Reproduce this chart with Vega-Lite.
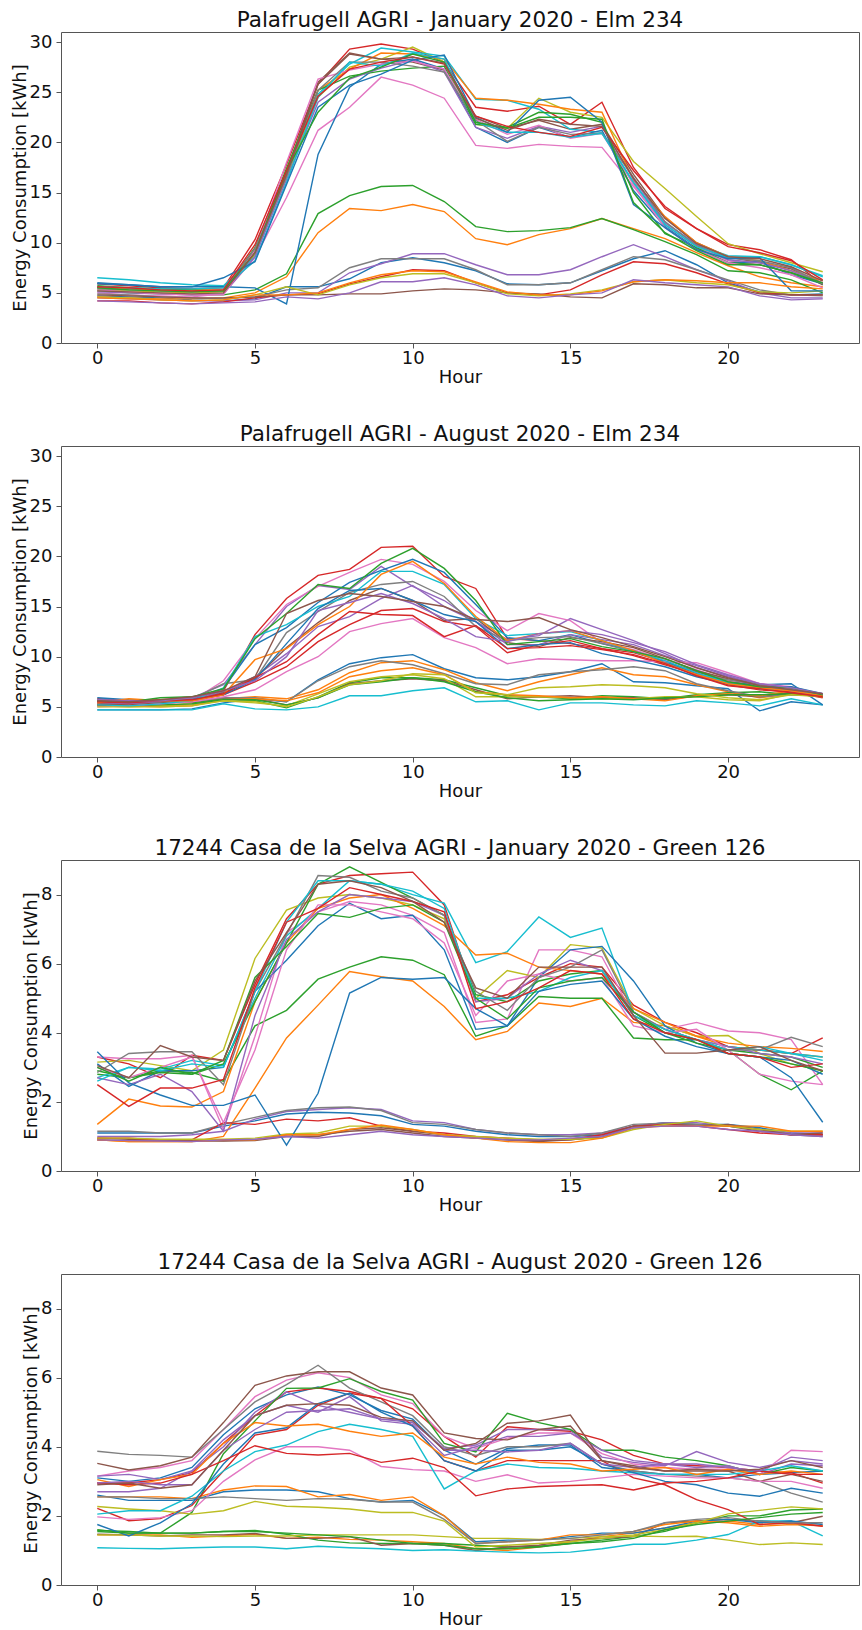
{
"$schema": "https://vega.github.io/schema/vega-lite/v6.json",
"padding": {"left": 10, "top": 9, "right": 4, "bottom": 0},
"spacing": 36,
"config": {
 "font": "DejaVu Sans",
 "view": {"stroke": "#555", "strokeWidth": 1},
 "axis": {"grid": false, "domain": false, "ticks": true, "tickColor": "#555", "tickSize": 5, "tickWidth": 1, "labelFontSize": 18, "titleFontSize": 18, "labelColor": "#111", "titleColor": "#111", "titleFontWeight": "normal", "labelFont": "DejaVu Sans", "titleFont": "DejaVu Sans", "labelFlush": false, "labelOverlap": false},
 "axisX": {"labelPadding": 1, "titlePadding": 1, "labelAngle": 0},
 "axisY": {"labelPadding": 4, "titlePadding": 0},
 "title": {"fontSize": 21.5, "fontWeight": "normal", "font": "DejaVu Sans", "color": "#111", "offset": 0.5},
 "line": {"strokeWidth": 1.4}
},
"datasets": {
"p1": [
{"hour":0,"a":4.7,"b":4.6,"c":5.2,"d":5.9,"e":4.5,"f":5.5,"g":5.0,"h":4.9,"i":5.3,"j":6.5,"k":6.0,"l":5.6,"m":5.7,"n":4.2,"o":5.1,"p":4.8,"q":5.3,"r":5.4,"s":4.6,"t":5.6,"u":5.9,"v":4.5,"w":5.5,"x":5.6,"y":4.2,"z":5.2},
{"hour":1,"a":4.6,"b":4.5,"c":5.0,"d":5.7,"e":4.4,"f":5.4,"g":4.8,"h":4.8,"i":5.2,"j":6.3,"k":5.8,"l":5.4,"m":5.5,"n":4.2,"o":5.0,"p":4.7,"q":5.1,"r":5.3,"s":4.5,"t":5.5,"u":5.8,"v":4.4,"w":5.3,"x":5.5,"y":4.1,"z":5.1},
{"hour":2,"a":4.5,"b":4.4,"c":4.9,"d":5.5,"e":4.3,"f":5.2,"g":4.7,"h":4.6,"i":5.1,"j":6.0,"k":5.6,"l":5.3,"m":5.4,"n":4.0,"o":4.9,"p":4.6,"q":4.9,"r":5.2,"s":4.3,"t":5.4,"u":5.6,"v":4.3,"w":5.2,"x":5.3,"y":4.0,"z":5.0},
{"hour":3,"a":4.3,"b":4.4,"c":4.8,"d":5.4,"e":4.2,"f":5.1,"g":4.6,"h":4.5,"i":5.0,"j":5.8,"k":5.6,"l":5.3,"m":5.3,"n":3.9,"o":4.8,"p":4.5,"q":4.8,"r":5.1,"s":4.2,"t":5.4,"u":5.6,"v":4.2,"w":5.1,"x":5.2,"y":3.9,"z":4.9},
{"hour":4,"a":4.2,"b":4.5,"c":4.8,"d":5.5,"e":4.2,"f":5.2,"g":4.9,"h":4.4,"i":5.1,"j":5.7,"k":5.6,"l":5.3,"m":5.2,"n":4.1,"o":4.9,"p":4.5,"q":4.8,"r":5.3,"s":4.3,"t":5.5,"u":6.5,"v":4.3,"w":5.2,"x":5.3,"y":4.0,"z":5.0},
{"hour":5,"a":4.4,"b":5.0,"c":5.3,"d":10.3,"e":4.3,"f":9.2,"g":8.5,"h":4.6,"i":8.8,"j":8.6,"k":5.5,"l":9.0,"m":9.5,"n":4.5,"o":8.6,"p":4.6,"q":9.2,"r":9.4,"s":4.8,"t":8.2,"u":8.1,"v":4.8,"w":9.0,"x":9.8,"y":4.1,"z":9.0},
{"hour":6,"a":5.6,"b":6.6,"c":6.9,"d":17.8,"e":5.0,"f":17.0,"g":14.5,"h":5.3,"i":16.5,"j":16.8,"k":3.9,"l":16.8,"m":17.4,"n":4.8,"o":16.3,"p":4.8,"q":18.0,"r":16.6,"s":5.6,"t":16.0,"u":15.8,"v":4.8,"w":17.2,"x":17.2,"y":4.6,"z":16.8},
{"hour":7,"a":5.6,"b":11.0,"c":12.9,"d":25.8,"e":5.0,"f":26.0,"g":21.2,"h":5.5,"i":24.5,"j":24.8,"k":18.8,"l":25.2,"m":25.2,"n":4.9,"o":24.0,"p":4.8,"q":26.3,"r":25.2,"s":4.8,"t":24.5,"u":23.5,"v":5.0,"w":23.0,"x":24.6,"y":4.4,"z":25.8},
{"hour":8,"a":6.4,"b":13.4,"c":14.7,"d":29.3,"e":7.0,"f":28.9,"g":23.5,"h":7.5,"i":27.5,"j":27.8,"k":25.5,"l":27.3,"m":26.6,"n":5.9,"o":26.3,"p":4.9,"q":27.2,"r":28.0,"s":5.8,"t":28.0,"u":25.7,"v":6.0,"w":26.4,"x":27.3,"y":5.0,"z":28.8},
{"hour":9,"a":8.0,"b":13.2,"c":15.6,"d":29.8,"e":7.9,"f":28.3,"g":26.5,"h":8.4,"i":28.3,"j":29.4,"k":27.8,"l":28.9,"m":27.1,"n":6.6,"o":27.4,"p":4.9,"q":27.8,"r":28.0,"s":6.5,"t":27.6,"u":26.8,"v":6.8,"w":27.5,"x":28.0,"y":6.1,"z":28.3},
{"hour":10,"a":8.5,"b":13.8,"c":15.7,"d":29.3,"e":8.9,"f":28.0,"g":25.7,"h":8.4,"i":29.5,"j":29.0,"k":28.3,"l":28.8,"m":27.4,"n":7.3,"o":28.2,"p":5.2,"q":28.1,"r":27.6,"s":6.9,"t":28.9,"u":28.2,"v":7.2,"w":28.8,"x":28.5,"y":6.1,"z":28.5},
{"hour":11,"a":8.0,"b":13.1,"c":14.1,"d":28.0,"e":8.9,"f":27.2,"g":24.4,"h":8.4,"i":28.0,"j":28.6,"k":27.3,"l":28.3,"m":27.6,"n":7.2,"o":27.0,"p":5.4,"q":27.3,"r":27.0,"s":6.9,"t":28.3,"u":28.7,"v":7.1,"w":28.0,"x":27.8,"y":6.5,"z":27.9},
{"hour":12,"a":7.2,"b":10.4,"c":11.6,"d":23.5,"e":7.8,"f":22.6,"g":19.7,"h":7.3,"i":21.8,"j":24.3,"k":21.5,"l":24.4,"m":21.8,"n":6.0,"o":21.5,"p":5.3,"q":22.3,"r":22.2,"s":6.0,"t":22.0,"u":22.5,"v":6.1,"w":22.0,"x":22.6,"y":5.8,"z":22.4},
{"hour":13,"a":5.9,"b":9.8,"c":11.1,"d":23.1,"e":6.8,"f":21.4,"g":19.4,"h":5.8,"i":21.4,"j":24.2,"k":20.0,"l":24.2,"m":21.5,"n":5.0,"o":20.4,"p":5.0,"q":20.8,"r":20.1,"s":4.9,"t":21.0,"u":21.0,"v":5.1,"w":21.4,"x":21.6,"y":4.7,"z":21.2},
{"hour":14,"a":5.8,"b":10.8,"c":11.2,"d":23.6,"e":6.8,"f":22.2,"g":19.8,"h":5.8,"i":24.4,"j":23.3,"k":21.5,"l":23.8,"m":23.0,"n":4.8,"o":21.6,"p":4.9,"q":21.7,"r":21.5,"s":4.7,"t":21.0,"u":24.2,"v":4.8,"w":22.5,"x":21.0,"y":4.5,"z":22.3},
{"hour":15,"a":6.0,"b":11.4,"c":11.5,"d":21.8,"e":7.3,"f":21.3,"g":19.6,"h":6.0,"i":23.0,"j":21.3,"k":20.5,"l":23.3,"m":22.8,"n":5.3,"o":21.0,"p":4.6,"q":20.4,"r":20.8,"s":4.9,"t":20.5,"u":24.5,"v":4.8,"w":22.5,"x":20.6,"y":4.8,"z":21.8},
{"hour":16,"a":7.2,"b":12.4,"c":12.4,"d":24.0,"e":8.6,"f":21.8,"g":19.5,"h":7.3,"i":22.5,"j":21.0,"k":21.2,"l":23.0,"m":22.0,"n":6.8,"o":21.6,"p":4.5,"q":20.9,"r":20.9,"s":5.3,"t":20.9,"u":22.0,"v":5.2,"w":22.3,"x":21.5,"y":5.0,"z":21.6},
{"hour":17,"a":8.4,"b":11.4,"c":11.3,"d":17.5,"e":9.8,"f":16.8,"g":15.6,"h":8.6,"i":18.1,"j":16.0,"k":15.2,"l":16.2,"m":15.0,"n":8.1,"o":16.3,"p":5.9,"q":15.8,"r":16.5,"s":6.1,"t":16.0,"u":13.8,"v":6.1,"w":14.0,"x":17.2,"y":6.3,"z":16.4},
{"hour":18,"a":9.2,"b":10.4,"c":10.1,"d":13.4,"e":8.6,"f":12.5,"g":11.8,"h":8.3,"i":15.4,"j":12.0,"k":11.6,"l":12.6,"m":10.9,"n":7.9,"o":12.0,"p":5.8,"q":11.5,"r":12.1,"s":6.3,"t":11.8,"u":11.5,"v":6.3,"w":11.0,"x":13.6,"y":6.0,"z":12.4},
{"hour":19,"a":7.8,"b":9.0,"c":8.8,"d":11.4,"e":7.3,"f":10.0,"g":9.6,"h":7.3,"i":12.6,"j":9.8,"k":9.4,"l":10.0,"m":9.5,"n":7.0,"o":9.8,"p":5.5,"q":9.3,"r":9.7,"s":6.0,"t":9.6,"u":9.3,"v":6.2,"w":9.2,"x":11.4,"y":5.8,"z":9.9},
{"hour":20,"a":6.0,"b":7.7,"c":7.2,"d":9.8,"e":6.2,"f":8.6,"g":8.2,"h":6.3,"i":9.9,"j":8.7,"k":8.0,"l":8.6,"m":8.0,"n":5.9,"o":8.3,"p":5.5,"q":8.0,"r":8.5,"s":5.8,"t":8.5,"u":8.4,"v":6.0,"w":7.8,"x":9.6,"y":5.6,"z":8.6},
{"hour":21,"a":5.1,"b":6.6,"c":7.0,"d":9.3,"e":5.0,"f":8.0,"g":7.8,"h":5.3,"i":8.9,"j":8.6,"k":8.1,"l":8.2,"m":7.8,"n":5.0,"o":8.0,"p":4.9,"q":7.5,"r":8.2,"s":5.1,"t":8.6,"u":8.5,"v":6.0,"w":7.8,"x":9.0,"y":4.7,"z":8.4},
{"hour":22,"a":4.8,"b":6.0,"c":6.3,"d":8.3,"e":4.5,"f":7.4,"g":7.0,"h":4.8,"i":8.0,"j":7.8,"k":6.8,"l":7.2,"m":7.0,"n":4.8,"o":7.2,"p":4.8,"q":6.8,"r":7.5,"s":5.0,"t":7.8,"u":5.2,"v":5.6,"w":7.0,"x":8.2,"y":4.3,"z":7.6},
{"hour":23,"a":4.9,"b":5.6,"c":5.0,"d":5.8,"e":4.5,"f":5.8,"g":6.0,"h":4.7,"i":7.1,"j":6.6,"k":5.9,"l":6.2,"m":5.9,"n":4.8,"o":6.0,"p":4.8,"q":5.5,"r":5.9,"s":5.2,"t":6.7,"u":5.2,"v":5.4,"w":6.0,"x":6.3,"y":4.4,"z":6.2}
],
"p2": [
{"hour":0,"a":4.7,"b":5.3,"c":5.4,"d":5.8,"e":5.5,"f":5.5,"g":5.3,"h":5.6,"i":5.1,"j":4.7,"k":5.5,"l":5.1,"m":5.2,"n":5.2,"o":5.4,"p":5.3,"q":5.0,"r":5.7,"s":5.0,"t":5.2,"u":5.9,"v":5.4,"w":5.6,"x":5.5,"y":5.7,"z":5.6},
{"hour":1,"a":4.7,"b":5.3,"c":5.4,"d":5.6,"e":5.4,"f":5.5,"g":5.2,"h":5.5,"i":5.0,"j":4.7,"k":5.4,"l":5.1,"m":5.1,"n":5.1,"o":5.3,"p":5.2,"q":5.1,"r":5.6,"s":5.0,"t":5.1,"u":5.7,"v":5.8,"w":5.5,"x":5.4,"y":5.6,"z":5.5},
{"hour":2,"a":4.7,"b":5.2,"c":5.5,"d":5.7,"e":5.6,"f":5.4,"g":5.4,"h":5.4,"i":5.1,"j":4.7,"k":5.5,"l":5.0,"m":5.2,"n":5.3,"o":5.5,"p":5.4,"q":5.3,"r":5.5,"s":5.0,"t":5.3,"u":5.6,"v":5.6,"w":5.9,"x":5.6,"y":5.6,"z":5.7},
{"hour":3,"a":4.8,"b":5.3,"c":5.4,"d":5.8,"e":5.9,"f":5.5,"g":5.6,"h":5.5,"i":5.2,"j":4.7,"k":5.7,"l":5.1,"m":5.3,"n":5.6,"o":5.7,"p":5.6,"q":5.5,"r":5.8,"s":5.1,"t":5.6,"u":5.7,"v":5.6,"w":6.0,"x":5.7,"y":5.9,"z":6.0},
{"hour":4,"a":5.4,"b":5.8,"c":5.8,"d":6.6,"e":7.2,"f":5.9,"g":7.6,"h":5.9,"i":5.6,"j":5.3,"k":6.8,"l":5.7,"m":5.7,"n":6.2,"o":6.5,"p":6.4,"q":6.0,"r":7.3,"s":5.6,"t":6.9,"u":6.2,"v":6.2,"w":6.8,"x":6.3,"y":6.6,"z":6.6},
{"hour":5,"a":5.8,"b":6.0,"c":5.6,"d":12.2,"e":11.2,"f":5.8,"g":11.8,"h":5.9,"i":5.4,"j":4.8,"k":11.2,"l":5.8,"m":5.7,"n":7.5,"o":8.0,"p":7.8,"q":6.7,"r":7.7,"s":5.5,"t":12.0,"u":7.7,"v":9.7,"w":11.8,"x":7.9,"y":7.6,"z":8.0},
{"hour":6,"a":5.5,"b":5.8,"c":4.9,"d":15.8,"e":15.0,"f":5.2,"g":15.2,"h":5.5,"i":5.1,"j":4.7,"k":12.9,"l":5.6,"m":5.2,"n":9.0,"o":10.3,"p":10.9,"q":8.5,"r":12.4,"s":5.0,"t":13.2,"u":11.3,"v":10.8,"w":14.3,"x":9.5,"y":10.0,"z":14.3},
{"hour":7,"a":7.7,"b":6.7,"c":6.0,"d":18.1,"e":17.1,"f":5.9,"g":17.0,"h":7.6,"i":6.3,"j":5.0,"k":15.4,"l":6.4,"m":5.9,"n":11.5,"o":13.0,"p":13.4,"q":10.0,"r":14.5,"s":6.0,"t":15.0,"u":14.8,"v":13.2,"w":17.2,"x":12.2,"y":14.6,"z":15.6},
{"hour":8,"a":9.3,"b":8.4,"c":7.4,"d":18.7,"e":16.7,"f":7.3,"g":18.4,"h":9.0,"i":7.5,"j":6.1,"k":17.4,"l":8.0,"m":7.2,"n":13.2,"o":14.0,"p":15.6,"q":12.5,"r":16.4,"s":7.2,"t":16.0,"u":16.6,"v":15.0,"w":16.8,"x":14.5,"y":15.4,"z":16.3},
{"hour":9,"a":9.9,"b":9.4,"c":7.9,"d":20.9,"e":19.0,"f":7.6,"g":19.7,"h":9.6,"i":8.0,"j":6.1,"k":18.6,"l":8.6,"m":7.5,"n":14.6,"o":15.8,"p":16.8,"q":13.3,"r":17.2,"s":7.6,"t":18.5,"u":16.8,"v":18.2,"w":19.3,"x":14.2,"y":16.3,"z":16.0},
{"hour":10,"a":10.2,"b":9.6,"c":7.9,"d":21.0,"e":17.0,"f":7.8,"g":19.2,"h":9.2,"i":8.2,"j":6.6,"k":19.7,"l":8.9,"m":7.9,"n":14.8,"o":17.1,"p":15.6,"q":13.8,"r":17.5,"s":8.3,"t":18.5,"u":15.6,"v":19.5,"w":20.8,"x":14.1,"y":15.3,"z":15.5},
{"hour":11,"a":8.8,"b":8.7,"c":7.7,"d":18.0,"e":15.6,"f":7.6,"g":17.5,"h":8.3,"i":7.8,"j":6.9,"k":18.4,"l":8.2,"m":7.5,"n":13.5,"o":15.0,"p":13.6,"q":11.9,"r":16.0,"s":8.2,"t":17.2,"u":14.2,"v":17.3,"w":18.8,"x":12.0,"y":13.8,"z":15.0},
{"hour":12,"a":7.9,"b":7.4,"c":6.9,"d":16.8,"e":13.5,"f":6.7,"g":14.6,"h":7.3,"i":6.0,"j":5.5,"k":15.2,"l":6.5,"m":6.5,"n":13.0,"o":13.5,"p":13.8,"q":10.9,"r":13.0,"s":6.4,"t":13.8,"u":13.5,"v":14.0,"w":15.6,"x":13.1,"y":12.0,"z":13.7},
{"hour":13,"a":7.7,"b":6.6,"c":6.1,"d":11.8,"e":11.7,"f":5.8,"g":12.6,"h":7.2,"i":6.0,"j":5.6,"k":11.9,"l":6.2,"m":5.9,"n":10.4,"o":11.2,"p":11.4,"q":9.3,"r":11.6,"s":6.2,"t":12.1,"u":10.8,"v":11.6,"w":11.2,"x":10.8,"y":11.5,"z":13.5},
{"hour":14,"a":8.0,"b":7.5,"c":6.0,"d":11.6,"e":12.1,"f":6.0,"g":14.3,"h":8.2,"i":6.0,"j":4.7,"k":11.6,"l":6.1,"m":5.6,"n":11.2,"o":11.2,"p":11.0,"q":9.8,"r":11.9,"s":6.9,"t":12.3,"u":11.2,"v":12.3,"w":11.5,"x":10.9,"y":12.3,"z":13.9},
{"hour":15,"a":8.5,"b":8.2,"c":5.8,"d":11.3,"e":13.8,"f":6.1,"g":13.6,"h":8.5,"i":5.9,"j":5.4,"k":12.2,"l":5.9,"m":5.7,"n":11.6,"o":12.2,"p":11.9,"q":9.7,"r":12.0,"s":7.0,"t":12.5,"u":11.4,"v":12.6,"w":11.8,"x":11.1,"y":12.6,"z":12.7},
{"hour":16,"a":9.3,"b":8.9,"c":6.1,"d":10.8,"e":12.7,"f":5.9,"g":11.4,"h":8.7,"i":5.8,"j":5.4,"k":11.3,"l":6.0,"m":5.8,"n":10.8,"o":11.7,"p":11.5,"q":9.6,"r":11.3,"s":7.2,"t":11.6,"u":10.3,"v":11.6,"w":11.0,"x":10.7,"y":12.2,"z":11.9},
{"hour":17,"a":7.5,"b":8.2,"c":6.0,"d":10.4,"e":11.6,"f":5.9,"g":10.7,"h":9.0,"i":5.8,"j":5.2,"k":10.6,"l":5.8,"m":5.7,"n":10.1,"o":11.2,"p":10.9,"q":9.6,"r":10.5,"s":7.1,"t":10.5,"u":9.7,"v":10.6,"w":10.5,"x":10.2,"y":11.4,"z":11.0},
{"hour":18,"a":7.4,"b":8.0,"c":5.8,"d":9.5,"e":10.3,"f":5.7,"g":9.7,"h":8.6,"i":6.0,"j":5.1,"k":9.5,"l":5.6,"m":5.9,"n":9.2,"o":10.1,"p":9.8,"q":9.5,"r":9.4,"s":6.9,"t":9.6,"u":9.0,"v":9.3,"w":9.8,"x":9.3,"y":10.5,"z":10.0},
{"hour":19,"a":7.1,"b":7.2,"c":6.2,"d":8.5,"e":8.9,"f":6.1,"g":8.7,"h":7.3,"i":6.0,"j":5.6,"k":8.3,"l":6.1,"m":6.0,"n":8.3,"o":9.1,"p":8.6,"q":9.4,"r":8.2,"s":6.3,"t":8.4,"u":8.0,"v":8.2,"w":8.6,"x":8.1,"y":9.2,"z":8.9},
{"hour":20,"a":6.8,"b":6.5,"c":6.4,"d":7.6,"e":8.0,"f":6.2,"g":7.6,"h":6.6,"i":5.7,"j":5.4,"k":7.4,"l":6.3,"m":6.2,"n":7.2,"o":8.1,"p":7.8,"q":8.4,"r":7.7,"s":5.9,"t":7.4,"u":7.3,"v":7.3,"w":7.5,"x":7.1,"y":8.2,"z":7.9},
{"hour":21,"a":4.6,"b":5.9,"c":6.5,"d":7.0,"e":7.3,"f":6.0,"g":7.3,"h":6.0,"i":5.6,"j":5.1,"k":7.2,"l":6.1,"m":6.2,"n":6.7,"o":7.0,"p":7.2,"q":7.3,"r":7.2,"s":5.7,"t":6.8,"u":6.9,"v":6.9,"w":7.0,"x":6.8,"y":7.3,"z":7.1},
{"hour":22,"a":5.5,"b":6.3,"c":6.2,"d":6.6,"e":6.8,"f":6.4,"g":6.8,"h":6.2,"i":6.3,"j":5.8,"k":7.3,"l":6.6,"m":6.3,"n":6.5,"o":6.6,"p":6.9,"q":7.0,"r":6.6,"s":6.2,"t":6.7,"u":7.0,"v":6.6,"w":6.9,"x":6.4,"y":6.9,"z":6.7},
{"hour":23,"a":5.2,"b":6.0,"c":6.1,"d":6.0,"e":6.3,"f":6.2,"g":6.2,"h":6.1,"i":6.1,"j":5.2,"k":5.2,"l":6.3,"m":6.0,"n":5.9,"o":6.1,"p":6.2,"q":6.2,"r":6.1,"s":6.0,"t":6.2,"u":6.3,"v":6.1,"w":6.2,"x":6.0,"y":6.3,"z":6.3}
],
"p3": [
{"hour":0,"a":1.1,"b":0.9,"c":2.8,"d":3.3,"e":1.0,"f":0.95,"g":3.3,"h":1.15,"i":3.15,"j":2.7,"k":3.1,"l":1.35,"m":2.9,"n":0.95,"o":2.7,"p":0.9,"q":3.0,"r":2.85,"s":0.95,"t":2.6,"u":3.45,"v":0.9,"w":3.0,"x":2.5,"y":0.9,"z":3.05},
{"hour":1,"a":1.1,"b":0.85,"c":2.7,"d":3.1,"e":1.0,"f":0.92,"g":3.25,"h":1.15,"i":3.2,"j":3.0,"k":2.45,"l":2.08,"m":2.7,"n":0.95,"o":2.5,"p":0.88,"q":2.7,"r":3.4,"s":0.95,"t":3.0,"u":2.55,"v":0.85,"w":2.6,"x":1.87,"y":0.88,"z":2.7},
{"hour":2,"a":1.1,"b":0.85,"c":2.9,"d":2.7,"e":1.0,"f":0.9,"g":3.25,"h":1.1,"i":3.05,"j":2.95,"k":2.9,"l":1.88,"m":2.85,"n":0.9,"o":2.8,"p":0.87,"q":3.0,"r":3.45,"s":0.92,"t":2.9,"u":2.2,"v":0.85,"w":3.0,"x":2.4,"y":0.87,"z":3.63},
{"hour":3,"a":1.1,"b":0.85,"c":2.85,"d":3.35,"e":1.05,"f":0.9,"g":3.35,"h":1.1,"i":2.9,"j":3.2,"k":2.9,"l":1.85,"m":2.8,"n":0.9,"o":2.3,"p":0.87,"q":3.3,"r":3.45,"s":0.92,"t":3.1,"u":1.9,"v":0.85,"w":2.8,"x":2.4,"y":0.85,"z":3.3},
{"hour":4,"a":1.3,"b":1.0,"c":2.6,"d":3.2,"e":1.15,"f":0.88,"g":1.2,"h":1.35,"i":3.5,"j":3.05,"k":3.0,"l":2.3,"m":3.1,"n":1.4,"o":1.15,"p":0.87,"q":1.4,"r":2.5,"s":0.92,"t":3.0,"u":1.9,"v":0.9,"w":3.2,"x":2.65,"y":0.9,"z":3.2},
{"hour":5,"a":1.45,"b":2.4,"c":4.2,"d":5.4,"e":1.5,"f":0.9,"g":3.9,"h":1.55,"i":6.15,"j":5.0,"k":5.2,"l":4.9,"m":4.9,"n":1.35,"o":4.5,"p":0.88,"q":3.5,"r":5.2,"s":0.95,"t":5.2,"u":2.2,"v":0.9,"w":5.6,"x":5.3,"y":0.92,"z":5.5},
{"hour":6,"a":1.65,"b":3.85,"c":4.65,"d":7.3,"e":1.72,"f":1.05,"g":6.9,"h":1.75,"i":7.55,"j":6.8,"k":6.1,"l":6.6,"m":6.6,"n":1.5,"o":6.7,"p":1.0,"q":6.4,"r":6.85,"s":1.07,"t":7.2,"u":0.75,"v":1.05,"w":6.5,"x":7.2,"y":1.0,"z":6.9},
{"hour":7,"a":1.7,"b":4.8,"c":5.55,"d":8.3,"e":1.78,"f":1.05,"g":7.5,"h":1.83,"i":7.9,"j":7.6,"k":7.1,"l":7.6,"m":8.3,"n":1.45,"o":7.5,"p":1.0,"q":7.7,"r":8.55,"s":1.1,"t":8.4,"u":2.25,"v":1.05,"w":7.45,"x":7.6,"y":0.95,"z":8.3},
{"hour":8,"a":1.68,"b":5.77,"c":5.9,"d":8.55,"e":1.83,"f":1.15,"g":7.8,"h":1.85,"i":8.0,"j":8.4,"k":7.75,"l":7.9,"m":8.8,"n":1.54,"o":8.0,"p":1.2,"q":7.7,"r":8.5,"s":1.3,"t":8.4,"u":5.15,"v":1.2,"w":7.34,"x":8.2,"y":1.05,"z":8.4},
{"hour":9,"a":1.6,"b":5.62,"c":6.2,"d":8.6,"e":1.78,"f":1.2,"g":7.7,"h":1.75,"i":7.9,"j":8.3,"k":7.3,"l":8.0,"m":8.35,"n":1.3,"o":7.9,"p":1.25,"q":7.5,"r":8.1,"s":1.3,"t":8.3,"u":5.6,"v":1.33,"w":7.6,"x":8.0,"y":1.15,"z":8.2},
{"hour":10,"a":1.35,"b":5.5,"c":6.1,"d":8.65,"e":1.45,"f":1.1,"g":7.4,"h":1.4,"i":7.7,"j":8.0,"k":7.4,"l":7.6,"m":7.9,"n":1.15,"o":7.8,"p":1.15,"q":7.3,"r":7.9,"s":1.2,"t":8.1,"u":5.55,"v":1.2,"w":7.7,"x":7.8,"y":1.05,"z":7.8},
{"hour":11,"a":1.3,"b":4.76,"c":5.68,"d":7.7,"e":1.4,"f":1.0,"g":6.9,"h":1.35,"i":7.3,"j":7.75,"k":6.4,"l":7.1,"m":7.4,"n":1.1,"o":7.4,"p":1.05,"q":6.6,"r":7.4,"s":1.05,"t":7.6,"u":5.6,"v":1.05,"w":7.2,"x":7.5,"y":1.0,"z":7.2},
{"hour":12,"a":1.15,"b":3.8,"c":3.9,"d":4.9,"e":1.2,"f":0.95,"g":4.3,"h":1.2,"i":5.0,"j":6.03,"k":4.1,"l":6.25,"m":5.1,"n":1.0,"o":4.9,"p":0.95,"q":4.5,"r":5.2,"s":1.0,"t":5.0,"u":4.7,"v":0.95,"w":5.0,"x":4.7,"y":0.95,"z":5.3},
{"hour":13,"a":1.05,"b":4.04,"c":4.2,"d":5.1,"e":1.1,"f":0.9,"g":4.4,"h":1.1,"i":5.8,"j":6.35,"k":4.2,"l":6.3,"m":4.9,"n":0.95,"o":5.0,"p":0.9,"q":5.5,"r":4.65,"s":0.95,"t":5.0,"u":4.2,"v":0.85,"w":4.4,"x":4.9,"y":0.9,"z":5.0},
{"hour":14,"a":1.0,"b":4.86,"c":5.05,"d":5.6,"e":1.05,"f":0.85,"g":6.4,"h":1.05,"i":5.6,"j":7.35,"k":5.6,"l":5.9,"m":5.5,"n":0.9,"o":5.7,"p":0.88,"q":5.7,"r":5.6,"s":0.92,"t":5.2,"u":5.2,"v":0.82,"w":5.3,"x":5.3,"y":0.9,"z":5.9},
{"hour":15,"a":1.0,"b":4.76,"c":5.0,"d":6.0,"e":1.05,"f":0.9,"g":6.4,"h":1.0,"i":6.55,"j":6.76,"k":6.4,"l":5.8,"m":5.7,"n":0.92,"o":6.1,"p":0.9,"q":5.5,"r":5.9,"s":0.92,"t":5.6,"u":5.4,"v":0.82,"w":5.5,"x":5.8,"y":0.95,"z":5.9},
{"hour":16,"a":1.05,"b":5.0,"c":5.0,"d":5.9,"e":1.1,"f":1.0,"g":6.2,"h":1.1,"i":6.45,"j":7.03,"k":6.5,"l":5.7,"m":5.8,"n":1.05,"o":5.8,"p":1.0,"q":5.6,"r":6.4,"s":0.95,"t":5.8,"u":5.5,"v":0.95,"w":5.6,"x":5.7,"y":1.0,"z":5.9},
{"hour":17,"a":1.3,"b":4.3,"c":3.85,"d":4.8,"e":1.3,"f":1.25,"g":4.5,"h":1.35,"i":4.7,"j":4.6,"k":5.5,"l":4.7,"m":4.5,"n":1.3,"o":4.6,"p":1.3,"q":4.2,"r":4.6,"s":1.2,"t":4.5,"u":4.4,"v":1.25,"w":4.6,"x":4.4,"y":1.25,"z":4.5},
{"hour":18,"a":1.4,"b":4.2,"c":3.8,"d":4.3,"e":1.4,"f":1.35,"g":4.1,"h":1.38,"i":4.2,"j":4.0,"k":4.2,"l":4.3,"m":4.0,"n":1.35,"o":4.1,"p":1.3,"q":4.0,"r":4.1,"s":1.35,"t":4.1,"u":3.9,"v":1.3,"w":4.0,"x":4.0,"y":1.3,"z":3.41},
{"hour":19,"a":1.35,"b":3.9,"c":3.8,"d":4.0,"e":1.4,"f":1.35,"g":4.3,"h":1.35,"i":3.9,"j":3.8,"k":3.7,"l":3.9,"m":3.7,"n":1.3,"o":3.8,"p":1.3,"q":4.1,"r":3.8,"s":1.45,"t":3.8,"u":3.6,"v":1.3,"w":3.8,"x":3.8,"y":1.3,"z":3.41},
{"hour":20,"a":1.35,"b":3.6,"c":3.5,"d":3.6,"e":1.3,"f":1.3,"g":4.05,"h":1.3,"i":3.92,"j":3.6,"k":3.4,"l":3.7,"m":3.5,"n":1.2,"o":3.6,"p":1.35,"q":3.5,"r":3.5,"s":1.3,"t":3.5,"u":3.4,"v":1.3,"w":3.4,"x":3.4,"y":1.2,"z":3.5},
{"hour":21,"a":1.25,"b":3.5,"c":2.8,"d":3.5,"e":1.2,"f":1.15,"g":4.0,"h":1.2,"i":3.4,"j":3.5,"k":3.3,"l":3.6,"m":3.4,"n":1.1,"o":3.4,"p":1.2,"q":2.8,"r":3.5,"s":1.2,"t":3.6,"u":3.3,"v":1.3,"w":3.3,"x":3.3,"y":1.15,"z":3.6},
{"hour":22,"a":1.1,"b":3.4,"c":2.35,"d":3.4,"e":1.1,"f":1.05,"g":3.8,"h":1.05,"i":3.1,"j":3.4,"k":3.2,"l":3.55,"m":3.3,"n":1.05,"o":3.3,"p":1.05,"q":2.6,"r":3.87,"s":1.15,"t":3.4,"u":2.7,"v":1.15,"w":3.1,"x":3.0,"y":1.05,"z":3.2},
{"hour":23,"a":1.05,"b":3.3,"c":2.9,"d":3.85,"e":1.1,"f":1.05,"g":2.5,"h":1.0,"i":2.9,"j":3.2,"k":2.8,"l":3.46,"m":3.0,"n":1.05,"o":3.1,"p":1.1,"q":2.5,"r":3.6,"s":1.15,"t":3.3,"u":1.41,"v":1.15,"w":2.9,"x":3.1,"y":1.0,"z":2.9}
],
"p4": [
{"hour":0,"a":3.1,"b":1.45,"c":1.58,"d":2.95,"e":2.7,"f":1.47,"g":3.15,"h":3.87,"i":1.45,"j":1.08,"k":2.6,"l":2.55,"m":1.6,"n":2.22,"o":3.15,"p":3.52,"q":1.97,"r":2.55,"s":2.27,"t":2.05,"u":1.75,"v":3.05,"w":1.55,"x":2.95,"y":2.95,"z":2.9},
{"hour":1,"a":3.0,"b":1.45,"c":1.55,"d":2.95,"e":2.7,"f":1.45,"g":3.3,"h":3.78,"i":1.45,"j":1.06,"k":2.45,"l":2.55,"m":1.5,"n":1.86,"o":3.2,"p":3.33,"q":1.9,"r":2.55,"s":2.2,"t":2.15,"u":1.42,"v":2.85,"w":1.5,"x":2.9,"y":3.0,"z":2.95},
{"hour":2,"a":3.1,"b":1.45,"c":1.5,"d":3.05,"e":2.8,"f":1.42,"g":3.4,"h":3.75,"i":1.42,"j":1.05,"k":2.45,"l":2.55,"m":1.5,"n":1.92,"o":3.05,"p":3.45,"q":1.95,"r":2.5,"s":2.15,"t":2.15,"u":1.8,"v":3.05,"w":1.5,"x":2.95,"y":2.9,"z":2.8},
{"hour":3,"a":3.4,"b":1.38,"c":1.5,"d":3.25,"e":3.3,"f":1.45,"g":3.6,"h":3.7,"i":1.42,"j":1.08,"k":2.45,"l":2.5,"m":2.1,"n":2.3,"o":3.3,"p":3.7,"q":2.15,"r":2.5,"s":2.05,"t":2.57,"u":2.35,"v":3.2,"w":1.5,"x":3.2,"y":2.9,"z":2.9},
{"hour":4,"a":4.35,"b":1.42,"c":1.55,"d":4.1,"e":4.0,"f":1.45,"g":4.5,"h":4.5,"i":1.4,"j":1.1,"k":2.7,"l":2.75,"m":3.8,"n":3.3,"o":4.2,"p":4.7,"q":3.0,"r":2.55,"s":2.15,"t":3.3,"u":3.5,"v":4.1,"w":1.55,"x":3.6,"y":3.9,"z":3.9},
{"hour":5,"a":5.1,"b":1.47,"c":1.58,"d":4.9,"e":5.0,"f":1.49,"g":5.45,"h":5.3,"i":1.42,"j":1.1,"k":2.75,"l":2.87,"m":4.75,"n":4.34,"o":4.9,"p":5.78,"q":3.62,"r":2.5,"s":2.42,"t":3.86,"u":4.4,"v":4.7,"w":1.55,"x":4.03,"y":4.5,"z":4.9},
{"hour":6,"a":5.5,"b":1.35,"c":1.47,"d":5.59,"e":5.59,"f":1.35,"g":5.93,"h":5.8,"i":1.42,"j":1.05,"k":2.75,"l":2.85,"m":5.69,"n":4.5,"o":5.2,"p":6.05,"q":4.0,"r":2.45,"s":2.28,"t":4.05,"u":4.55,"v":4.6,"w":1.5,"x":3.81,"y":5.0,"z":5.2},
{"hour":7,"a":5.73,"b":1.38,"c":1.3,"d":5.7,"e":5.2,"f":1.35,"g":6.14,"h":6.36,"i":1.45,"j":1.12,"k":2.7,"l":2.55,"m":5.7,"n":5.2,"o":5.0,"p":6.17,"q":4.0,"r":2.5,"s":2.25,"t":4.44,"u":5.25,"v":4.65,"w":1.45,"x":3.76,"y":5.05,"z":5.25},
{"hour":8,"a":5.5,"b":1.32,"c":1.22,"d":5.6,"e":5.0,"f":1.4,"g":6.0,"h":5.7,"i":1.45,"j":1.08,"k":2.5,"l":2.62,"m":5.97,"n":5.55,"o":5.45,"p":6.17,"q":3.9,"r":2.48,"s":2.2,"t":4.65,"u":5.55,"v":4.45,"w":1.4,"x":3.81,"y":5.1,"z":5.2},
{"hour":9,"a":5.05,"b":1.3,"c":1.2,"d":5.4,"e":4.8,"f":1.15,"g":5.5,"h":5.3,"i":1.45,"j":1.05,"k":2.4,"l":2.45,"m":5.6,"n":5.4,"o":4.75,"p":5.7,"q":3.43,"r":2.4,"s":2.1,"t":4.5,"u":5.0,"v":4.3,"w":1.3,"x":3.55,"y":4.8,"z":4.85},
{"hour":10,"a":4.8,"b":1.25,"c":1.2,"d":5.1,"e":4.7,"f":1.2,"g":5.25,"h":4.9,"i":1.45,"j":1.0,"k":2.45,"l":2.55,"m":5.35,"n":4.6,"o":4.65,"p":5.5,"q":3.34,"r":2.4,"s":2.1,"t":4.3,"u":4.6,"v":4.4,"w":1.2,"x":3.67,"y":4.75,"z":4.75},
{"hour":11,"a":3.9,"b":1.2,"c":1.2,"d":4.3,"e":3.95,"f":1.15,"g":4.3,"h":4.0,"i":1.4,"j":1.02,"k":2.0,"l":2.0,"m":4.1,"n":3.6,"o":3.75,"p":4.4,"q":3.3,"r":1.9,"s":1.85,"t":2.78,"u":3.6,"v":3.7,"w":1.15,"x":3.4,"y":3.9,"z":3.9},
{"hour":12,"a":3.5,"b":1.05,"c":1.15,"d":3.7,"e":4.05,"f":1.0,"g":3.95,"h":3.75,"i":1.35,"j":0.98,"k":1.25,"l":1.2,"m":3.85,"n":3.3,"o":4.0,"p":4.24,"q":3.0,"r":1.2,"s":1.1,"t":3.3,"u":3.3,"v":3.5,"w":1.05,"x":2.58,"y":3.9,"z":4.1},
{"hour":13,"a":3.95,"b":1.0,"c":1.1,"d":4.58,"e":4.5,"f":1.1,"g":4.25,"h":4.0,"i":1.35,"j":0.95,"k":1.3,"l":1.25,"m":4.97,"n":3.6,"o":4.3,"p":4.2,"q":3.19,"r":1.25,"s":1.15,"t":3.5,"u":3.9,"v":3.7,"w":1.05,"x":2.78,"y":3.85,"z":4.68},
{"hour":14,"a":4.05,"b":1.1,"c":1.12,"d":4.5,"e":4.5,"f":1.15,"g":4.4,"h":4.0,"i":1.32,"j":0.93,"k":1.3,"l":1.3,"m":4.7,"n":3.6,"o":4.3,"p":4.5,"q":2.95,"r":1.3,"s":1.2,"t":3.4,"u":3.9,"v":3.55,"w":1.1,"x":2.85,"y":3.9,"z":4.75},
{"hour":15,"a":4.05,"b":1.25,"c":1.2,"d":4.45,"e":4.49,"f":1.3,"g":4.4,"h":4.1,"i":1.35,"j":0.95,"k":1.4,"l":1.45,"m":4.5,"n":3.6,"o":4.4,"p":4.6,"q":3.0,"r":1.35,"s":1.25,"t":3.38,"u":4.0,"v":3.5,"w":1.2,"x":2.88,"y":4.1,"z":4.92},
{"hour":16,"a":3.4,"b":1.4,"c":1.3,"d":4.2,"e":3.7,"f":1.35,"g":3.8,"h":3.5,"i":1.4,"j":1.05,"k":1.5,"l":1.45,"m":3.9,"n":3.6,"o":3.9,"p":3.6,"q":3.1,"r":1.45,"s":1.35,"t":3.3,"u":3.5,"v":3.3,"w":1.25,"x":2.9,"y":3.5,"z":3.6},
{"hour":17,"a":3.3,"b":1.5,"c":1.4,"d":3.75,"e":3.55,"f":1.4,"g":3.5,"h":3.3,"i":1.42,"j":1.18,"k":1.5,"l":1.55,"m":3.9,"n":3.1,"o":3.6,"p":3.45,"q":3.2,"r":1.55,"s":1.45,"t":3.25,"u":3.25,"v":3.35,"w":1.35,"x":2.75,"y":3.4,"z":3.4},
{"hour":18,"a":3.2,"b":1.65,"c":1.55,"d":3.5,"e":3.45,"f":1.8,"g":3.4,"h":3.2,"i":1.4,"j":1.18,"k":1.65,"l":1.75,"m":3.7,"n":2.9,"o":3.5,"p":3.3,"q":3.15,"r":1.8,"s":1.6,"t":3.2,"u":3.0,"v":3.4,"w":1.6,"x":2.95,"y":3.5,"z":3.3},
{"hour":19,"a":3.2,"b":1.8,"c":1.8,"d":3.45,"e":3.86,"f":1.85,"g":3.35,"h":3.15,"i":1.41,"j":1.3,"k":1.85,"l":1.85,"m":3.6,"n":2.47,"o":3.4,"p":3.35,"q":3.1,"r":1.9,"s":1.8,"t":3.2,"u":2.9,"v":3.2,"w":1.75,"x":3.0,"y":3.5,"z":3.3},
{"hour":20,"a":3.1,"b":1.85,"c":2.0,"d":3.4,"e":3.55,"f":1.9,"g":3.35,"h":3.1,"i":1.3,"j":1.46,"k":1.9,"l":1.8,"m":3.45,"n":2.18,"o":3.45,"p":3.3,"q":3.1,"r":1.95,"s":2.06,"t":3.2,"u":2.66,"v":3.35,"w":1.85,"x":3.1,"y":3.4,"z":3.3},
{"hour":21,"a":3.2,"b":1.75,"c":2.0,"d":3.3,"e":3.4,"f":1.85,"g":3.2,"h":3.0,"i":1.17,"j":1.85,"k":1.8,"l":1.7,"m":3.2,"n":1.75,"o":3.2,"p":3.0,"q":3.0,"r":1.85,"s":2.16,"t":3.3,"u":2.57,"v":3.2,"w":1.95,"x":3.3,"y":3.3,"z":3.35},
{"hour":22,"a":3.25,"b":1.8,"c":2.17,"d":3.25,"e":3.6,"f":1.8,"g":3.9,"h":2.66,"i":1.22,"j":1.85,"k":1.85,"l":1.75,"m":3.4,"n":1.8,"o":3.5,"p":3.2,"q":3.0,"r":1.8,"s":2.26,"t":3.45,"u":2.8,"v":3.3,"w":2.05,"x":3.2,"y":3.7,"z":3.6},
{"hour":23,"a":3.3,"b":1.71,"c":2.2,"d":2.95,"e":3.5,"f":1.99,"g":3.86,"h":2.4,"i":1.17,"j":1.42,"k":1.75,"l":1.71,"m":3.3,"n":1.7,"o":3.45,"p":3.0,"q":2.8,"r":1.8,"s":2.2,"t":3.3,"u":2.66,"v":3.2,"w":2.1,"x":3.2,"y":3.6,"z":3.4}
]
},
"vconcat": [
{
 "title": "Palafrugell AGRI - January 2020 - Elm 234",
 "width": 798, "height": 311,
 "data": {"name": "p1"},
 "transform": [{"fold": ["a","b","c","d","e","f","g","h","i","j","k","l","m","n","o","p","q","r","s","t","u","v","w","x","y","z"], "as": ["day", "v"]}],
 "mark": {"type": "line", "strokeWidth": 1.4, "clip": true},
 "encoding": {
  "x": {"field": "hour", "type": "quantitative", "scale": {"domain": [-1.15, 24.15], "nice": false, "zero": false}, "axis": {"values": [0,5,10,15,20], "title": "Hour"}},
  "y": {"field": "v", "type": "quantitative", "scale": {"domain": [0, 31], "nice": false}, "axis": {"values": [0,5,10,15,20,25,30], "title": "Energy Consumption [kWh]"}},
  "color": {"field": "day", "type": "nominal", "legend": null, "scale": {"domain": ["a","b","c","d","e","f","g","h","i","j","k","l","m","n","o","p","q","r","s","t","u","v","w","x","y","z"], "range": ["#1f77b4","#ff7f0e","#2ca02c","#d62728","#9467bd","#8c564b","#e377c2","#7f7f7f","#bcbd22","#17becf","#1f77b4","#ff7f0e","#2ca02c","#d62728","#9467bd","#8c564b","#e377c2","#7f7f7f","#bcbd22","#17becf","#1f77b4","#ff7f0e","#2ca02c","#d62728","#9467bd","#8c564b"]}}
 }
},
{
 "title": "Palafrugell AGRI - August 2020 - Elm 234",
 "width": 798, "height": 311,
 "data": {"name": "p2"},
 "transform": [{"fold": ["a","b","c","d","e","f","g","h","i","j","k","l","m","n","o","p","q","r","s","t","u","v","w","x","y","z"], "as": ["day", "v"]}],
 "mark": {"type": "line", "strokeWidth": 1.4, "clip": true},
 "encoding": {
  "x": {"field": "hour", "type": "quantitative", "scale": {"domain": [-1.15, 24.15], "nice": false, "zero": false}, "axis": {"values": [0,5,10,15,20], "title": "Hour"}},
  "y": {"field": "v", "type": "quantitative", "scale": {"domain": [0, 31], "nice": false}, "axis": {"values": [0,5,10,15,20,25,30], "title": "Energy Consumption [kWh]"}},
  "color": {"field": "day", "type": "nominal", "legend": null, "scale": {"domain": ["a","b","c","d","e","f","g","h","i","j","k","l","m","n","o","p","q","r","s","t","u","v","w","x","y","z"], "range": ["#1f77b4","#ff7f0e","#2ca02c","#d62728","#9467bd","#8c564b","#e377c2","#7f7f7f","#bcbd22","#17becf","#1f77b4","#ff7f0e","#2ca02c","#d62728","#9467bd","#8c564b","#e377c2","#7f7f7f","#bcbd22","#17becf","#1f77b4","#ff7f0e","#2ca02c","#d62728","#9467bd","#8c564b"]}}
 }
},
{
 "title": "17244 Casa de la Selva AGRI - January 2020 - Green 126",
 "width": 798, "height": 311,
 "data": {"name": "p3"},
 "transform": [{"fold": ["a","b","c","d","e","f","g","h","i","j","k","l","m","n","o","p","q","r","s","t","u","v","w","x","y","z"], "as": ["day", "v"]}],
 "mark": {"type": "line", "strokeWidth": 1.4, "clip": true},
 "encoding": {
  "x": {"field": "hour", "type": "quantitative", "scale": {"domain": [-1.15, 24.15], "nice": false, "zero": false}, "axis": {"values": [0,5,10,15,20], "title": "Hour"}},
  "y": {"field": "v", "type": "quantitative", "scale": {"domain": [0, 9], "nice": false}, "axis": {"values": [0,2,4,6,8], "title": "Energy Consumption [kWh]"}},
  "color": {"field": "day", "type": "nominal", "legend": null, "scale": {"domain": ["a","b","c","d","e","f","g","h","i","j","k","l","m","n","o","p","q","r","s","t","u","v","w","x","y","z"], "range": ["#1f77b4","#ff7f0e","#2ca02c","#d62728","#9467bd","#8c564b","#e377c2","#7f7f7f","#bcbd22","#17becf","#1f77b4","#ff7f0e","#2ca02c","#d62728","#9467bd","#8c564b","#e377c2","#7f7f7f","#bcbd22","#17becf","#1f77b4","#ff7f0e","#2ca02c","#d62728","#9467bd","#8c564b"]}}
 }
},
{
 "title": "17244 Casa de la Selva AGRI - August 2020 - Green 126",
 "width": 798, "height": 311,
 "data": {"name": "p4"},
 "transform": [{"fold": ["a","b","c","d","e","f","g","h","i","j","k","l","m","n","o","p","q","r","s","t","u","v","w","x","y","z"], "as": ["day", "v"]}],
 "mark": {"type": "line", "strokeWidth": 1.4, "clip": true},
 "encoding": {
  "x": {"field": "hour", "type": "quantitative", "scale": {"domain": [-1.15, 24.15], "nice": false, "zero": false}, "axis": {"values": [0,5,10,15,20], "title": "Hour"}},
  "y": {"field": "v", "type": "quantitative", "scale": {"domain": [0, 9], "nice": false}, "axis": {"values": [0,2,4,6,8], "title": "Energy Consumption [kWh]"}},
  "color": {"field": "day", "type": "nominal", "legend": null, "scale": {"domain": ["a","b","c","d","e","f","g","h","i","j","k","l","m","n","o","p","q","r","s","t","u","v","w","x","y","z"], "range": ["#1f77b4","#ff7f0e","#2ca02c","#d62728","#9467bd","#8c564b","#e377c2","#7f7f7f","#bcbd22","#17becf","#1f77b4","#ff7f0e","#2ca02c","#d62728","#9467bd","#8c564b","#e377c2","#7f7f7f","#bcbd22","#17becf","#1f77b4","#ff7f0e","#2ca02c","#d62728","#9467bd","#8c564b"]}}
 }
}
]
}
